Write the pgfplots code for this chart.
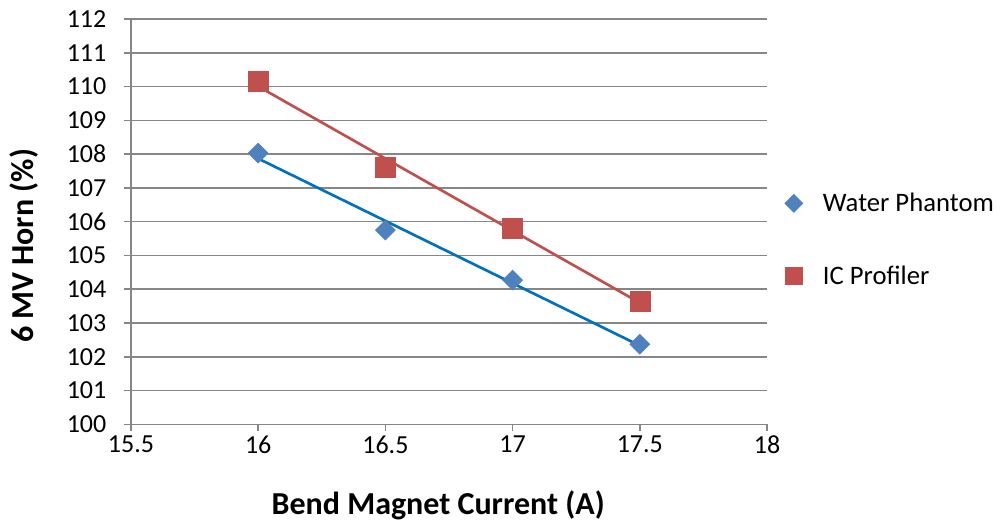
\documentclass[border=0pt]{standalone}
\usepackage{pgfplots}
\usepackage{pgfplotstable}
\pgfplotsset{compat=1.18}
\usepackage{fontspec}
\setmainfont{Carlito}
\definecolor{wpm}{HTML}{4F81BD}
\definecolor{wpl}{HTML}{0070C0}
\definecolor{icp}{HTML}{C0504D}
\definecolor{gridc}{HTML}{868686}
\pgfplotsset{
  wleg/.style={legend image code/.code={\draw[##1, mark size=4.8pt] plot coordinates {(0cm,0cm)};}},
  ileg/.style={legend image code/.code={\draw[##1, mark size=6.5pt] plot coordinates {(0cm,0cm)};}},
}
\pgfplotstableread{
x y
16 108.03
16.5 105.75
17 104.27
17.5 102.37
}\water
\pgfplotstableread{
x y
16 110.16
16.5 107.61
17 105.81
17.5 103.64
}\icprof
\begin{document}
\begin{tikzpicture}
\begin{axis}[
  scale only axis, width=477pt, height=304pt,
  xmin=15.5, xmax=18, ymin=100, ymax=112,
  xtick={15.5,16,16.5,17,17.5,18},
  ytick={100,101,...,112},
  axis x line*=bottom, axis y line*=left,
  ymajorgrids,
  grid style={gridc, line width=1.1pt},
  axis line style={gridc, line width=1.1pt},
  tick style={gridc, line width=1.1pt},
  tick align=outside, major tick length=5pt,
  /pgf/number format/assume math mode=true,
  tick label style={font=\fontsize{19.5}{21}\selectfont},
  yticklabel style={xshift=-10pt},
  xticklabel style={yshift=0pt},
  xlabel={Bend Magnet Current (A)},
  ylabel={6 MV Horn (\%)},
  label style={font=\bfseries\fontsize{24}{27}\selectfont},
  xlabel style={at={(axis description cs:0.483,-0.2)}, anchor=center},
  ylabel style={at={(axis description cs:-0.168,0.44)}, anchor=center},
  legend style={draw=none, fill=none, at={(1.028,0.4556)}, anchor=west,
    inner sep=0pt, outer sep=0pt,
    font=\fontsize{20}{22}\selectfont, row sep=37pt,
    nodes={inner sep=1pt},
    /tikz/every odd column/.append style={column sep=14pt}},
  legend cell align=left,
]
\addplot[wpl, line width=2pt, no marks, forget plot] table[x=x, y={create col/linear regression={y=y}}] {\water};
\addplot[icp, line width=2pt, no marks, forget plot] table[x=x, y={create col/linear regression={y=y}}] {\icprof};
\addplot[only marks, mark=square*, mark size=5.3pt, color=wpm, mark options={fill=wpm, draw=wpm, rotate=45}, wleg] table[x=x, y=y] {\water};
\addlegendentry{Water Phantom}
\addplot[only marks, mark=square*, mark size=7.5pt, color=icp, mark options={fill=icp, draw=icp}, ileg] table[x=x, y=y] {\icprof};
\addlegendentry{IC Profiler}
\end{axis}
\pgfresetboundingbox
\path (current axis.south west) ++(-98.25pt,-76.5pt) coordinate (bl);
\path (current axis.north east) ++(177pt,14.25pt) coordinate (tr);
\path (bl) rectangle (tr);
\end{tikzpicture}
\end{document}
